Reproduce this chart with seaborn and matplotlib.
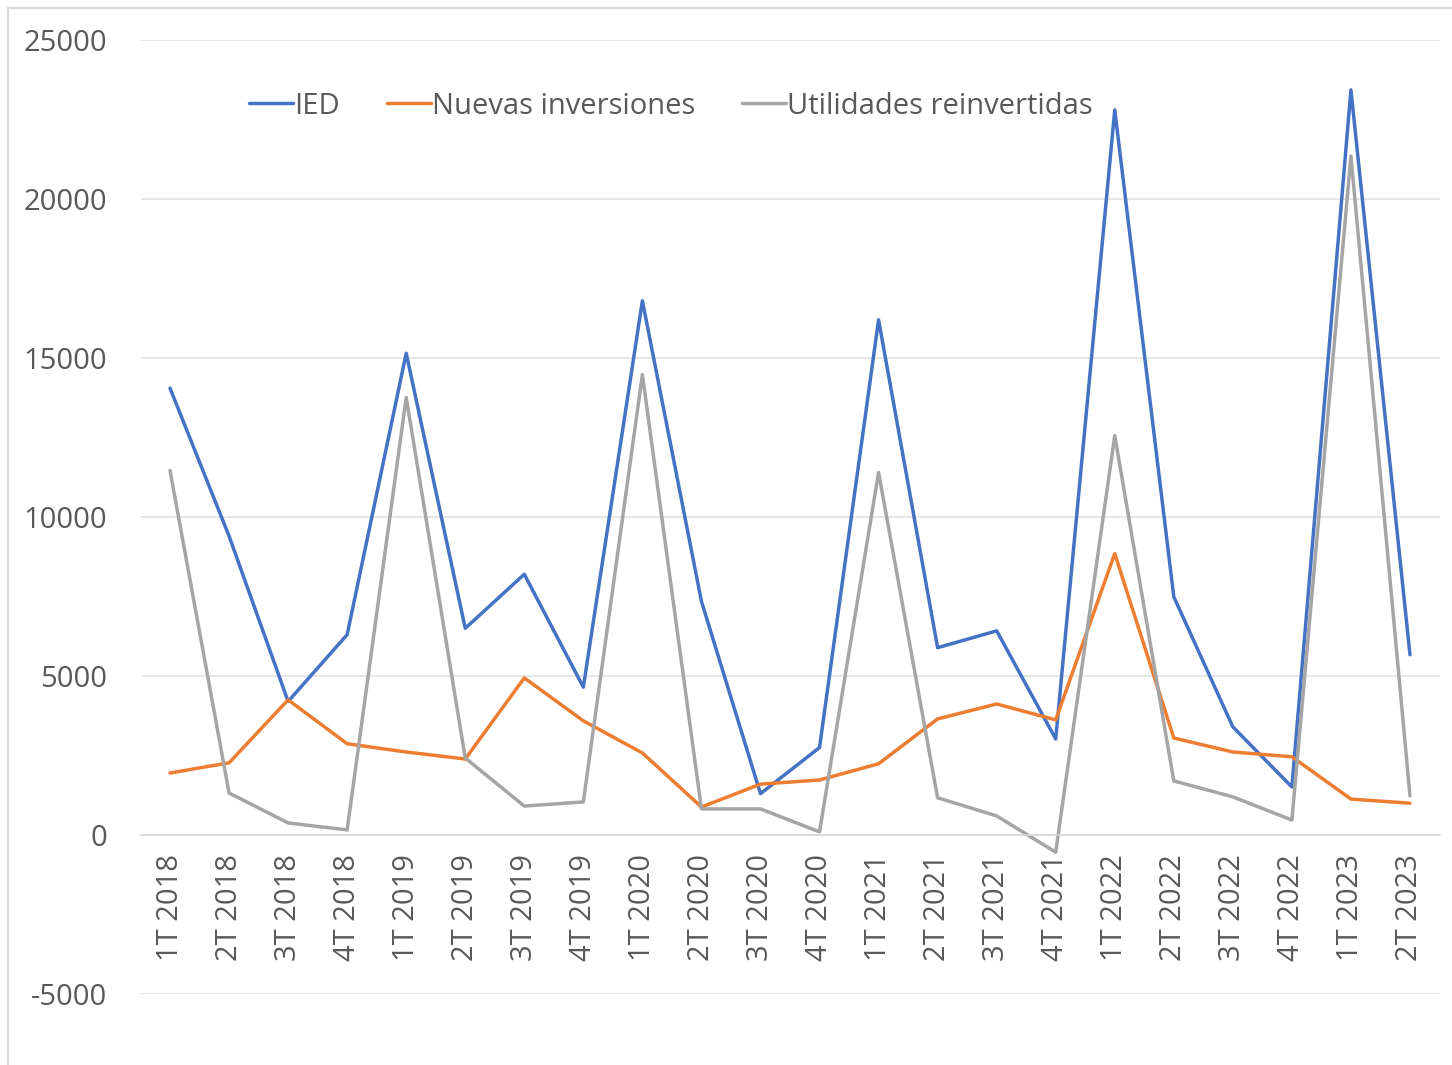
import matplotlib
matplotlib.use("Agg")
import matplotlib.pyplot as plt
import seaborn as sns
import pandas as pd
from matplotlib.patches import Rectangle
from matplotlib.lines import Line2D

categories = ["1T 2018", "2T 2018", "3T 2018", "4T 2018",
              "1T 2019", "2T 2019", "3T 2019", "4T 2019",
              "1T 2020", "2T 2020", "3T 2020", "4T 2020",
              "1T 2021", "2T 2021", "3T 2021", "4T 2021",
              "1T 2022", "2T 2022", "3T 2022", "4T 2022",
              "1T 2023", "2T 2023"]

ied = [14050, 9400, 4200, 6300, 15150, 6500, 8200, 4650, 16800, 7350, 1300,
       2750, 16200, 5890, 6420, 3020, 22800, 7490, 3400, 1510, 23430, 5670]
nuevas = [1950, 2270, 4250, 2870, 2610, 2390, 4940, 3590, 2580, 880, 1600,
          1730, 2240, 3650, 4120, 3620, 8850, 3050, 2610, 2460, 1130, 1000]
utilidades = [11460, 1320, 380, 160, 13760, 2420, 910, 1040, 14480, 820, 820,
              100, 11400, 1170, 600, -540, 12560, 1700, 1200, 470, 21350, 1230]

series_names = ["IED", "Nuevas inversiones", "Utilidades reinvertidas"]
colors = ["#4472C4", "#ED7D31", "#A5A5A5"]
yticks = [-5000, 0, 5000, 10000, 15000, 20000, 25000]

rows = []
for name, vals in zip(series_names, [ied, nuevas, utilidades]):
    for i, (c, v) in enumerate(zip(categories, vals)):
        rows.append({"idx": i, "cat": c, "serie": name, "valor": v})
df = pd.DataFrame(rows)

sns.set_theme(style="white")
plt.rcParams["font.family"] = ["Open Sans", "DejaVu Sans"]
txt = "#595959"

W, H = 1452, 1065
x0, x1 = 140.5, 1439.5
fig = plt.figure(figsize=(W / 100, H / 100), dpi=100)
ax = fig.add_axes([x0 / W, 1 - 994 / H, (x1 - x0) / W, (994 - 40) / H])

sns.lineplot(data=df, x="idx", y="valor", hue="serie", hue_order=series_names,
             palette=colors, linewidth=2.5, ax=ax, legend=False)

ax.set_xlim(-0.5, len(categories) - 0.5)
ax.set_ylim(-5000, 25000)
ax.set_yticks(yticks)
ax.set_yticklabels([str(v) for v in yticks], fontsize=21, color=txt)
ax.grid(axis="y", color="#E3E3E3", linewidth=1.2)
ax.set_axisbelow(True)
for s in ["top", "right", "left"]:
    ax.spines[s].set_visible(False)
ax.spines["bottom"].set_position(("data", 0))
ax.spines["bottom"].set_color("#D9D9D9")
ax.spines["bottom"].set_linewidth(1.2)
ax.set_xticks(range(len(categories)))
ax.set_xticklabels(categories, rotation=90, fontsize=21, color=txt, va="top")
ax.tick_params(axis="x", length=0, pad=14)
ax.tick_params(axis="y", length=0, pad=(x0 - 107) * 0.72)
ax.set_xlabel("")
ax.set_ylabel("")

handles = [Line2D([0], [0], color=c, linewidth=2.5) for c in colors]
leg = ax.legend(handles, series_names, ncol=3, frameon=False, fontsize=21,
                loc="center", bbox_to_anchor=((671 - x0) / (x1 - x0), 1 - (106 - 40) / 954),
                handlelength=1.5, handletextpad=0.05, columnspacing=1.6)
for t in leg.get_texts():
    t.set_color(txt)

fig.patches.append(Rectangle((8 / W, -0.1), 1.0, 1.1 - 8 / H, transform=fig.transFigure,
                             fill=False, edgecolor="#D9D9D9", linewidth=1.5))

fig.savefig("out.png", dpi=100)
